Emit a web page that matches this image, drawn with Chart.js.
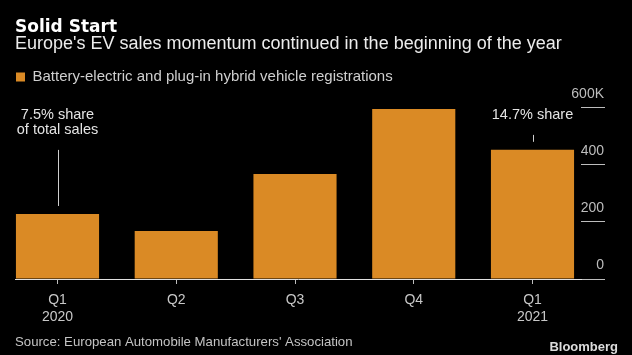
<!DOCTYPE html>
<html><head><meta charset="utf-8">
<script src="https://cdn.jsdelivr.net/npm/chart.js@4/dist/chart.umd.min.js"></script>
<style>html,body{margin:0;padding:0;background:#000;overflow:hidden}#wrap{width:632px;height:355px;position:relative}canvas{display:block}</style>
</head><body><div id="wrap"><canvas id="c" width="632" height="355"></canvas></div>
<script>
// ---- data ----
const categories = ['Q1 2020', 'Q2 2020', 'Q3 2020', 'Q4 2020', 'Q1 2021'];
const tickLabels = [['Q1', '2020'], ['Q2'], ['Q3'], ['Q4'], ['Q1', '2021']];
const registrations = [228, 168, 368, 596, 453]; // thousands
const yTicks = [0, 200, 400, 600];
const yTickLabels = ['0', '200', '400', '600K'];
const annIndex = [0, 4];
const annText = [['7.5% share', 'of total sales'], ['14.7% share']];
const seriesName = 'Battery-electric and plug-in hybrid vehicle registrations';
const titleText = 'Solid Start';
const subtitleText = "Europe's EV sales momentum continued in the beginning of the year";
const sourceText = "Source: European Automobile Manufacturers' Association";
const brandText = 'Bloomberg';

// ---- styling ----
const FONT = '"Liberation Sans", Arial, sans-serif';
const BAR = '#DA8A25';
const xMin = -0.3579, xMax = 4.4084;
const yMax = 647;

const extras = {
  id: 'extras',
  afterDatasetsDraw(chart) {
    const {ctx, scales: {x, y}} = chart;
    ctx.save();
    ctx.font = '14.5px ' + FONT;
    ctx.textAlign = 'center';
    ctx.textBaseline = 'middle';
    const textY = y.getPixelForValue(yTicks[yTicks.length - 1]) + 7;
    annIndex.forEach((idx, k) => {
      const px = x.getPixelForValue(idx);
      const lines = annText[k];
      ctx.fillStyle = '#e4e4e4';
      lines.forEach((t, j) => ctx.fillText(t, px, textY + j * 15));
      const top = textY + (lines.length - 1) * 15 + 20;
      const bottom = y.getPixelForValue(registrations[idx]) - 8;
      const lx = Math.round(px) + 0.5;
      ctx.strokeStyle = '#cfcfcf';
      ctx.lineWidth = 1;
      ctx.beginPath(); ctx.moveTo(lx, top); ctx.lineTo(lx, bottom); ctx.stroke();
    });
    ctx.restore();
  },
  afterDraw(chart) {
    const {ctx} = chart;
    ctx.save();
    ctx.textBaseline = 'middle';
    ctx.textAlign = 'left';
    ctx.fillStyle = '#c4c4c4';
    ctx.font = '13.2px ' + FONT;
    ctx.fillText(sourceText, 15, 342);
    ctx.textAlign = 'right';
    ctx.fillStyle = '#dcdcdc';
    ctx.font = 'bold 13px ' + FONT;
    ctx.fillText(brandText, 618, 347.5);
    ctx.restore();
  }
};

new Chart(document.getElementById('c'), {
  type: 'bar',
  data: {
    datasets: [{
      label: seriesName,
      data: registrations.map((v, i) => ({x: i, y: v})),
      backgroundColor: BAR,
      borderWidth: 0,
      categoryPercentage: 0.7,
      barPercentage: 1
    }]
  },
  options: {
    responsive: false,
    animation: false,
    devicePixelRatio: 1,
    layout: {padding: {left: 15, right: 27, top: 0, bottom: 22}},
    plugins: {
      title: {
        display: true, text: titleText, align: 'start', color: '#ffffff',
        font: {family: '"DejaVu Sans", sans-serif', weight: 'bold', size: 17, lineHeight: 1},
        padding: {top: 19, bottom: -1}
      },
      subtitle: {
        display: true, text: subtitleText, align: 'start', color: '#ececec',
        font: {family: FONT, size: 18, lineHeight: 1},
        padding: {top: 0, bottom: 15.5}
      },
      legend: {
        display: true, align: 'start',
        labels: {boxWidth: 9, boxHeight: 9, padding: 1, color: '#cfcfcf', font: {family: FONT, size: 15}}
      },
      tooltip: {enabled: false}
    },
    scales: {
      x: {
        type: 'linear', min: xMin, max: xMax, bounds: 'data', offset: false,
        afterBuildTicks: a => { a.ticks = categories.map((c, i) => ({value: i})); },
        ticks: {
          callback: v => tickLabels[v], color: '#c8c8c8',
          font: {family: FONT, size: 14, lineHeight: 17 / 14},
          padding: 7.5, autoSkip: false, maxRotation: 0, minRotation: 0
        },
        grid: {offset: false, drawOnChartArea: false, drawTicks: true, tickLength: 5, tickColor: '#bdbdbd', tickWidth: 1},
        border: {display: true, color: '#e0e0e0', width: 1}
      },
      y: {
        position: 'right', min: 0, max: yMax,
        afterBuildTicks: a => { a.ticks = yTicks.map(v => ({value: v})); },
        afterFit: s => { s.width = 24; },
        ticks: {
          mirror: true, padding: 23, labelOffset: -13.5,
          callback: v => yTickLabels[yTicks.indexOf(v)], color: '#bdbdbd',
          font: {family: FONT, size: 14}
        },
        grid: {drawOnChartArea: false, drawTicks: true, tickLength: 24, tickColor: '#bdbdbd', tickWidth: 1},
        border: {display: false}
      }
    }
  },
  plugins: [extras]
});
</script></body></html>
